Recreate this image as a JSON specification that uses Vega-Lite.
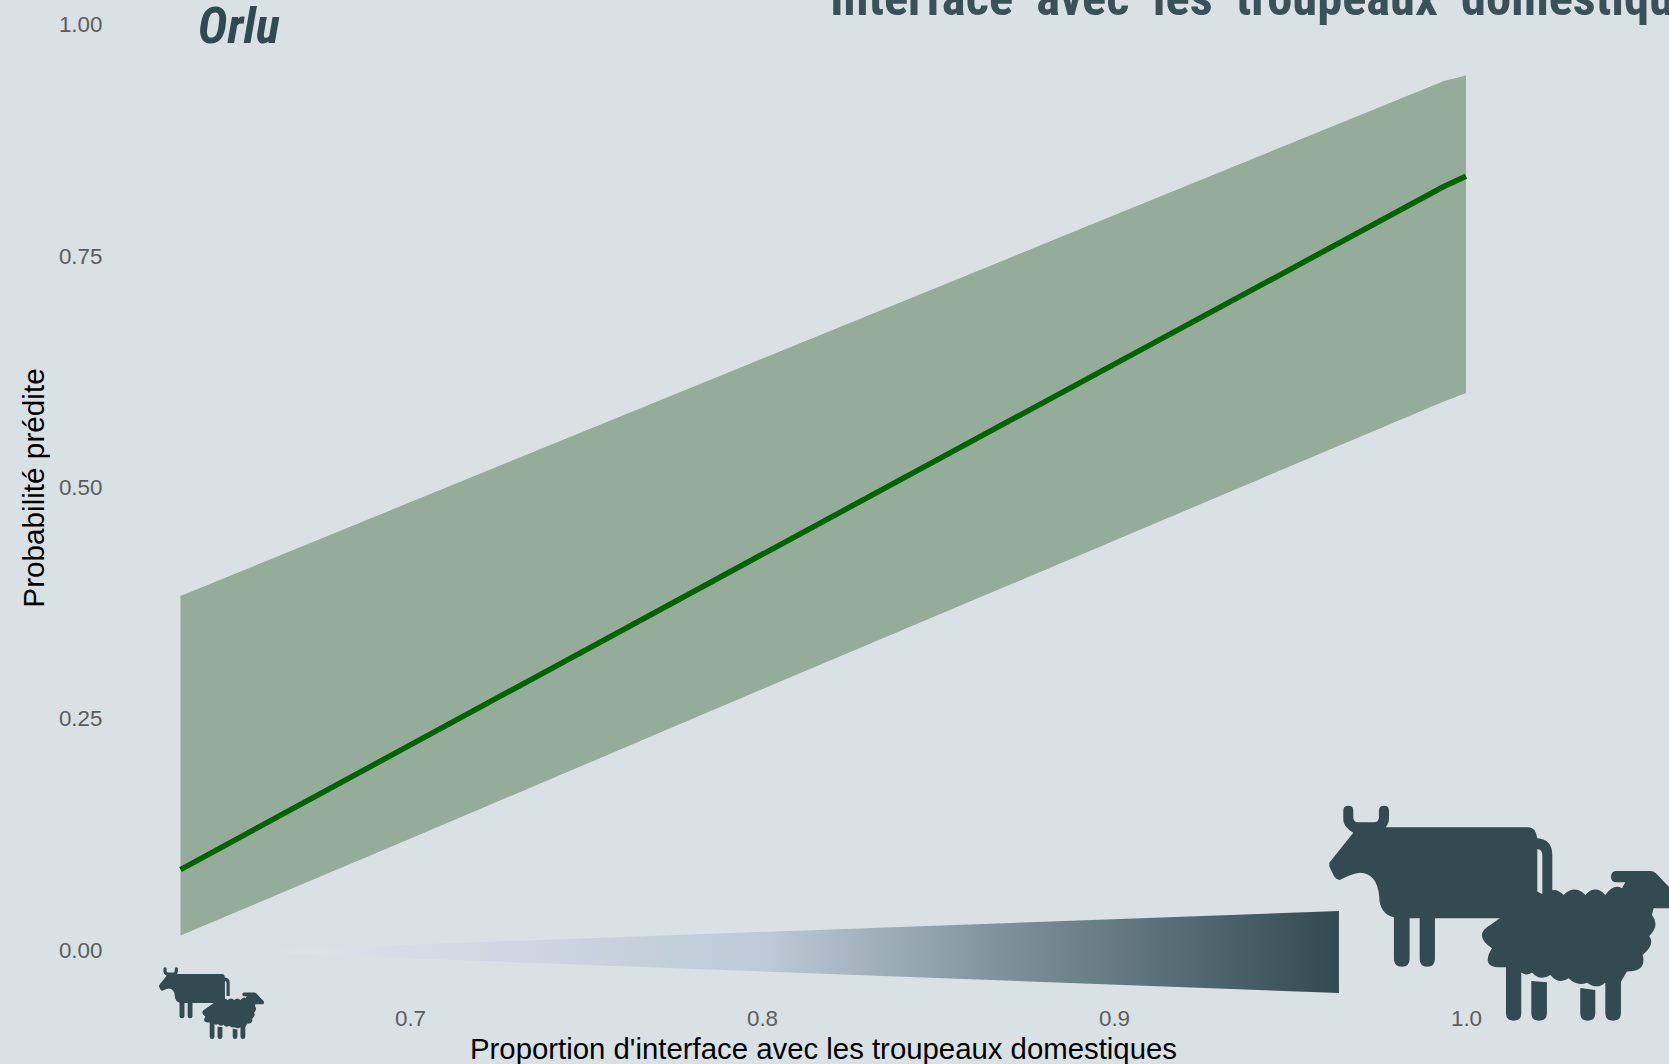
{"$schema":"https://vega.github.io/schema/vega-lite/v6.json","width":1425,"height":1005,"autosize":{"type":"none"},"padding":{"left":115,"top":0,"right":129,"bottom":59},"background":"#d9e1e4","config":{"view":{"stroke":null}},"datasets":{"ruban":[{"x":0.6348,"y":0.0874,"y_haut":0.3828,"y_bas":0.0161},{"x":0.7,"y":0.2218,"y_haut":0.484,"y_bas":0.1207},{"x":0.8,"y":0.4276,"y_haut":0.639,"y_bas":0.282},{"x":0.9,"y":0.633,"y_haut":0.794,"y_bas":0.4425},{"x":0.9937,"y":0.825,"y_haut":0.939,"y_bas":0.593},{"x":1.0,"y":0.836,"y_haut":0.945,"y_bas":0.602}],"biseau":[{"x":0.6551,"y_haut":0.0,"y_bas":-0.002},{"x":0.9639,"y_haut":0.0427,"y_bas":-0.0459}],"icones":[{"animal":"vache","format":"vache grande","x":0.99298,"y":0.0693},{"animal":"mouton","format":"mouton grand","x":1.03318,"y":0.0051},{"animal":"vache","format":"vache petite","x":0.63878,"y":-0.04568},{"animal":"mouton","format":"mouton petit","x":0.64986,"y":-0.07052}],"textes":[{"x":0.8193,"y":1.0103,"texte":"Interface\u00a0\u00a0avec\u00a0\u00a0les\u00a0\u00a0troupeaux\u00a0\u00a0domestiques","role":"titre"},{"x":0.6398,"y":0.9801,"texte":"Orlu","role":"site"}]},"encoding":{"x":{"field":"x","type":"quantitative","scale":{"domain":[0.61619,1.02102],"nice":false,"zero":false},"axis":{"title":"Proportion d'interface avec les troupeaux domestiques","values":[0.7,0.8,0.9,1.0],"format":".1f","grid":false,"domain":false,"ticks":false,"labelFont":"Liberation Sans","labelFontSize":22.4,"labelColor":"#5c5c5c","labelPadding":2,"titleFont":"Liberation Sans","titleFontSize":29.35,"titleFontWeight":"normal","titleColor":"#000000","titleX":708,"titleY":30}},"y":{"field":"y","type":"quantitative","scale":{"domain":[-0.05886,1.02646],"nice":false,"zero":false},"axis":{"title":"Probabilité prédite","values":[0,0.25,0.5,0.75,1],"format":".2f","grid":false,"domain":false,"ticks":false,"labelFont":"Liberation Sans","labelFontSize":22.4,"labelColor":"#5c5c5c","labelPadding":13,"titleFont":"Liberation Sans","titleFontSize":29.7,"titleFontWeight":"normal","titleColor":"#000000","titleX":-66,"titleY":487.5}}},"layer":[{"data":{"name":"ruban"},"mark":{"type":"area","color":"#95ac9a","opacity":1},"encoding":{"y":{"field":"y_haut","type":"quantitative"},"y2":{"field":"y_bas"}}},{"data":{"name":"ruban"},"mark":{"type":"line","color":"#006400","strokeWidth":5.5}},{"data":{"name":"biseau"},"mark":{"type":"area","opacity":1,"color":{"gradient":"linear","x1":0,"y1":0,"x2":1,"y2":0,"stops":[{"offset":0,"color":"#d9e1e4"},{"offset":0.06,"color":"#dde2e6"},{"offset":0.11,"color":"#d9dfe7"},{"offset":0.25,"color":"#cdd6e1"},{"offset":0.473,"color":"#bdcad7"},{"offset":0.698,"color":"#7c9099"},{"offset":1,"color":"#324a50"}]}},"encoding":{"y":{"field":"y_haut","type":"quantitative"},"y2":{"field":"y_bas"}}},{"data":{"name":"icones"},"transform":[{"filter":"datum.animal === 'vache'"}],"mark":{"type":"point","filled":true,"opacity":1,"color":"#324a50","strokeWidth":0,"shape":"M-1 -0.21L-0.786 -0.479Q-0.875 -0.533 -0.875 -0.592L-0.875 -0.676Q-0.875 -0.72 -0.83 -0.72Q-0.786 -0.72 -0.786 -0.676L-0.786 -0.616Q-0.786 -0.571 -0.741 -0.571L-0.601 -0.571Q-0.557 -0.571 -0.557 -0.616L-0.557 -0.676Q-0.557 -0.72 -0.512 -0.72Q-0.467 -0.72 -0.467 -0.676L-0.467 -0.607Q-0.467 -0.562 -0.497 -0.527L0.777 -0.527Q0.845 -0.527 0.857 -0.429Q0.991 -0.42 0.991 -0.28L0.991 0.092L0.902 0.092L0.902 -0.28Q0.902 -0.33 0.857 -0.33L0.857 0.286L-0.057 0.286L-0.057 0.649Q-0.057 0.717 -0.125 0.717Q-0.193 0.717 -0.193 0.649L-0.193 0.286L-0.283 0.286L-0.283 0.649Q-0.283 0.717 -0.351 0.717Q-0.423 0.717 -0.423 0.649L-0.423 0.277Q-0.554 0.241 -0.554 0.092Q-0.571 -0.116 -0.726 -0.122Q-0.801 -0.116 -0.905 -0.057Q-0.94 -0.057 -0.964 -0.101L-1 -0.18Z"},"encoding":{"size":{"field":"format","type":"nominal","legend":null,"scale":{"type":"ordinal","domain":["vache grande","mouton grand","vache petite","mouton petit"],"range":[50176,38025,5041,3648]}}}},{"data":{"name":"icones"},"transform":[{"filter":"datum.animal === 'mouton'"}],"mark":{"type":"point","filled":true,"opacity":1,"color":"#324a50","strokeWidth":0,"shape":"M0.436 -0.651L0.35 -0.651Q0.289 -0.651 0.289 -0.709Q0.289 -0.768 0.35 -0.768L0.692 -0.768Q0.726 -0.768 0.75 -0.744L1 -0.48Q1.03 -0.4 0.97 -0.385L0.726 -0.385L0.709 -0.316Q0.795 -0.214 0.682 -0.101Q0.744 -0.009 0.614 0.094Q0.658 0.265 0.453 0.265L0.391 0.368L0.391 0.692Q0.391 0.768 0.309 0.768Q0.231 0.768 0.231 0.692L0.231 0.378Q0.145 0.453 0.043 0.378Q-0.06 0.419 -0.145 0.333Q-0.248 0.402 -0.333 0.299Q-0.436 0.368 -0.521 0.275Q-0.573 0.316 -0.631 0.275L-0.631 0.692Q-0.631 0.768 -0.709 0.768Q-0.788 0.768 -0.788 0.692L-0.788 0.221L-0.846 0.221Q-1.05 0.22 -0.932 0.026Q-1.13 -0.111 -0.949 -0.214L-0.47 -0.556L-0.395 -0.521Q-0.299 -0.624 -0.197 -0.521Q-0.084 -0.631 0.026 -0.521Q0.128 -0.631 0.231 -0.521Q0.316 -0.641 0.402 -0.59ZM-0.528 0.361L-0.368 0.374L-0.368 0.692Q-0.368 0.768 -0.45 0.768Q-0.528 0.768 -0.528 0.692ZM-0.026 0.432L0.128 0.453L0.128 0.692Q0.128 0.768 0.05 0.768Q-0.026 0.768 -0.026 0.692Z"},"encoding":{"size":{"field":"format","type":"nominal","legend":null,"scale":{"type":"ordinal","domain":["vache grande","mouton grand","vache petite","mouton petit"],"range":[50176,38025,5041,3648]}}}},{"data":{"name":"textes"},"transform":[{"filter":"datum.role === 'titre'"}],"mark":{"type":"text","align":"left","baseline":"alphabetic","font":"Roboto Condensed, 'DejaVu Sans Condensed', 'Liberation Sans'","fontWeight":"bold","fontSize":50.5,"color":"#3b5158"},"encoding":{"text":{"field":"texte"}}},{"data":{"name":"textes"},"transform":[{"filter":"datum.role === 'site'"}],"mark":{"type":"text","align":"left","baseline":"alphabetic","font":"Roboto Condensed, 'DejaVu Sans Condensed', 'Liberation Sans'","fontWeight":"bold","fontStyle":"italic","fontSize":50,"color":"#2f4a50"},"encoding":{"text":{"field":"texte"}}}]}
